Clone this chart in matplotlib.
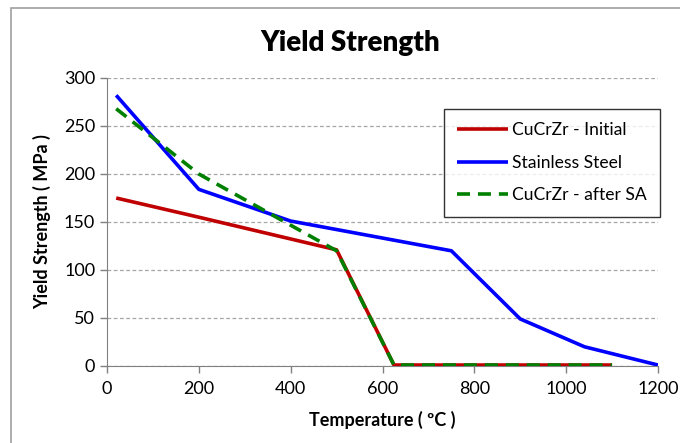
import matplotlib
matplotlib.use("Agg")
import matplotlib.pyplot as plt
from matplotlib.patches import Rectangle

cu_init_t = [20, 200, 500, 625, 1100]
cu_init_y = [175, 155, 121, 1, 1]
ss_t = [20, 200, 400, 750, 900, 1040, 1200]
ss_y = [282, 184, 151, 120, 49, 20, 1]
cu_sa_t = [20, 200, 500, 625, 1100]
cu_sa_y = [268, 200, 120, 1, 1]

x_ticks = [0, 200, 400, 600, 800, 1000, 1200]
y_ticks = [0, 50, 100, 150, 200, 250, 300]

plt.rcParams['font.family'] = ['Lato', 'DejaVu Sans']

fig = plt.figure(figsize=(6.8, 4.43), dpi=100)
fig.patches.append(Rectangle((11/680, -0.1), 1.2, 1 - 8/443 + 0.1, transform=fig.transFigure,
                             fill=False, edgecolor='#a0a0a0', linewidth=1.2))
ax = fig.add_axes([107/680, 1 - 366/443, (658-107)/680, (366-78)/443])

ax.plot(cu_init_t, cu_init_y, color='#C00000', lw=2.6, label='CuCrZr - Initial', solid_capstyle='butt', zorder=3)
ax.plot(ss_t, ss_y, color='#0000FF', lw=2.6, label='Stainless Steel', solid_capstyle='butt', zorder=4)
ax.plot(cu_sa_t, cu_sa_y, color='#008000', lw=2.6, ls=(0, (3.6, 2.2)), label='CuCrZr - after SA', zorder=5)

ax.set_xlim(0, 1200)
ax.set_ylim(0, 300)
ax.set_xticks(x_ticks)
ax.set_yticks(y_ticks)
ax.tick_params(axis='both', labelsize=13, color='#808080', length=5, width=1)
ax.tick_params(axis='x', pad=6)
ax.yaxis.grid(True, color='#a6a6a6', ls=(0, (3, 2)), lw=0.9)
ax.set_axisbelow(True)
for s in ['top', 'right']:
    ax.spines[s].set_visible(False)
for s in ['left', 'bottom']:
    ax.spines[s].set_color('#808080')

ax.set_xlabel('Temperature ( ºC )', fontsize=13, fontweight='bold', labelpad=10)
ax.set_ylabel('Yield Strength ( MPa )', fontsize=13, fontweight='bold', labelpad=9)
fig.text(350/680, 1 - 43/443, 'Yield Strength', ha='center', va='center', fontsize=20, fontweight='heavy')

leg = ax.legend(loc='upper left', bbox_to_anchor=((444-107)/551, (366-109)/288), fontsize=13,
                frameon=True, fancybox=False, edgecolor='black', handlelength=2.9,
                labelspacing=0.95, borderpad=0.75, handletextpad=0.25, borderaxespad=0,
                prop={'size': 12.6})
leg.get_frame().set_linewidth(1)

fig.savefig('out.png', dpi=100)
